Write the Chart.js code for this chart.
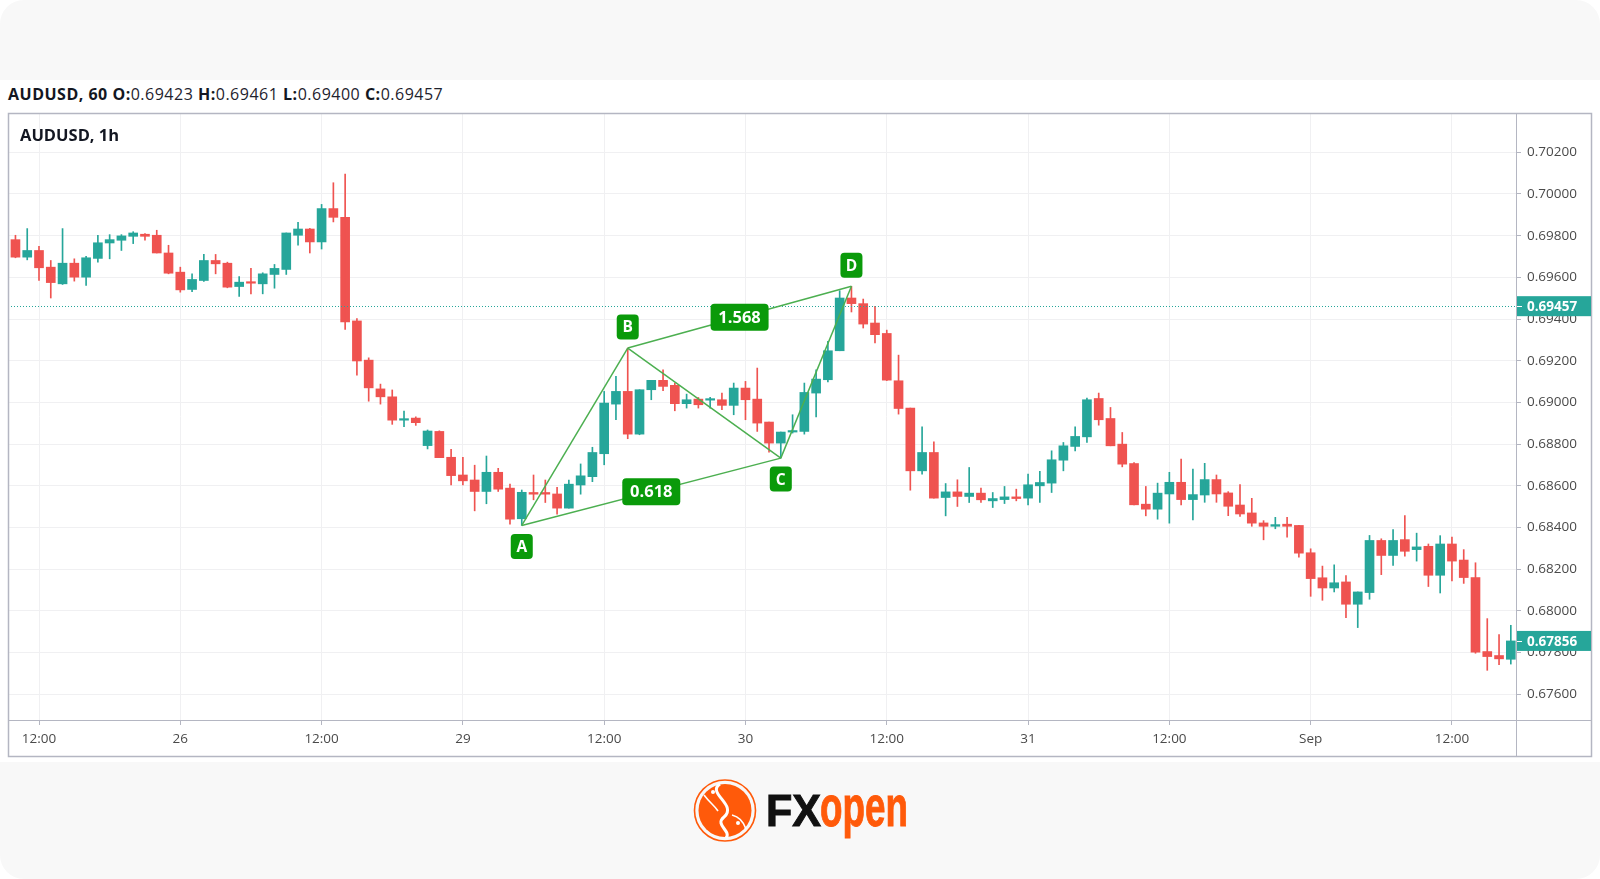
<!DOCTYPE html>
<html>
<head>
<meta charset="utf-8">
<script src="https://cdn.jsdelivr.net/npm/chart.js@4.4.1/dist/chart.umd.min.js"></script>
<style>
  html,body{margin:0;padding:0;background:#fff;}
  body{width:1600px;height:879px;position:relative;overflow:hidden;font-family:"Open Sans","Noto Sans",sans-serif;}
  #topband{position:absolute;left:0;top:0;width:1600px;height:80px;background:#f8f8f8;border-radius:24px 24px 0 0;}
  #botband{position:absolute;left:0;top:762px;width:1600px;height:117px;background:#f8f8f8;border-radius:0 0 24px 24px;}
  #hdr{position:absolute;left:8px;top:83px;font-size:16px;letter-spacing:0.5px;color:#131722;white-space:nowrap;line-height:22px;}
  #hdr b{font-weight:700;}
  #hdr span.v{font-weight:400;color:#1e222d;}
  #ttl{position:absolute;left:20px;top:124px;font-size:16.5px;font-weight:700;color:#131722;white-space:nowrap;line-height:22px;}
  #cv{position:absolute;left:0;top:0;}
  #logo{position:absolute;left:680px;top:765px;}
</style>
</head>
<body>
<div id="topband"></div>
<div id="botband"></div>
<div id="hdr"></div>
<canvas id="cv" width="1600" height="879"></canvas>
<div id="ttl"></div>
<svg id="logo" width="240" height="95" viewBox="0 0 240 95">
  <circle cx="45" cy="45.5" r="30.5" fill="none" stroke="#ff5a0a" stroke-width="1.6"/>
  <circle cx="45" cy="45.5" r="26.5" fill="#ff5a0a"/>
  <path d="M40 19 C26 28 58 40 44 52 C34 60 52 66 46 73" fill="none" stroke="#fff" stroke-width="3"/>
  <path d="M24 30 C30 38 34 40 38 46" fill="none" stroke="#fff" stroke-width="1.6"/>
  <path d="M52 50 C60 52 64 58 66 64" fill="none" stroke="#fff" stroke-width="1.6"/>
  <circle cx="33" cy="27" r="2" fill="#fff"/>
  <circle cx="58" cy="58" r="2" fill="#fff"/>
  <text x="86" y="61" font-family="Liberation Sans, Arial, sans-serif" font-weight="700" font-size="44" fill="#111" textLength="55" lengthAdjust="spacingAndGlyphs" stroke="#111" stroke-width="1">FX</text>
  <text x="140" y="61" font-family="Liberation Sans, Arial, sans-serif" font-weight="700" font-size="58" fill="#ff5a0a" textLength="88" lengthAdjust="spacingAndGlyphs" stroke="#ff5a0a" stroke-width="1">open</text>
</svg>
<script>
// ---------------- DATA ----------------
const symbolTitle = "AUDUSD, 1h";
const headerSymbol = "AUDUSD, 60";
const headerKeys = ["O", "H", "L", "C"];
const headerVals = ["0.69423", "0.69461", "0.69400", "0.69457"];

// hourly candles, index 0 = 25 Aug 10:00
const opens = [
0.69781,0.69697,0.69729,0.69649,0.69569,0.69668,0.69601,0.69691,0.69765,0.69778,
0.69797,0.69807,0.69802,0.69717,0.69625,0.69542,0.69585,0.69681,0.69668,0.69556,
0.69577,0.69569,0.69614,0.69638,0.69802,0.69832,0.69770,0.69930,0.69888,0.69391,
0.69203,0.69065,0.69027,0.68915,0.68925,0.68793,0.68861,0.68737,0.68652,0.68628,
0.68573,0.68665,0.68589,0.68442,0.68568,0.68568,0.68561,0.68493,0.68604,0.68644,
0.68754,0.68992,0.69053,0.68848,0.69061,0.69106,0.69082,0.68994,0.69016,0.69011,
0.69013,0.68986,0.69069,0.69016,0.68906,0.68805,0.68858,0.68861,0.69045,0.69109,
0.69248,0.69501,0.69474,0.69381,0.69331,0.69104,0.68973,0.68672,0.68760,0.68544,
0.68571,0.68549,0.68565,0.68528,0.68534,0.68547,0.68541,0.68600,0.68613,0.68723,
0.68789,0.68835,0.69019,0.68923,0.68800,0.68707,0.68512,0.68488,0.68561,0.68617,
0.68534,0.68556,0.68630,0.68566,0.68508,0.68470,0.68422,0.68406,0.68416,0.68410,
0.68279,0.68159,0.68110,0.68139,0.68032,0.68088,0.68338,0.68266,0.68342,0.68294,
0.68310,0.68171,0.68321,0.68244,0.68160,0.67805,0.67786,0.67768];
const highs = [
0.69802,0.69834,0.69749,0.69681,0.69834,0.69689,0.69701,0.69802,0.69805,0.69805,
0.69819,0.69810,0.69826,0.69754,0.69649,0.69617,0.69710,0.69710,0.69673,0.69604,
0.69643,0.69622,0.69662,0.69813,0.69864,0.69835,0.69950,0.70054,0.70095,0.69402,
0.69214,0.69088,0.69060,0.68959,0.68931,0.68868,0.68864,0.68775,0.68737,0.68699,
0.68743,0.68684,0.68609,0.68580,0.68652,0.68628,0.68593,0.68628,0.68705,0.68785,
0.69053,0.69125,0.69261,0.69061,0.69106,0.69157,0.69093,0.69040,0.69024,0.69024,
0.69045,0.69093,0.69101,0.69165,0.68906,0.68858,0.68941,0.69093,0.69157,0.69293,
0.69536,0.69557,0.69496,0.69461,0.69347,0.69227,0.68973,0.68883,0.68811,0.68611,
0.68629,0.68688,0.68589,0.68568,0.68597,0.68584,0.68656,0.68669,0.68768,0.68808,
0.68883,0.69021,0.69045,0.68976,0.68856,0.68712,0.68597,0.68613,0.68665,0.68728,
0.68680,0.68708,0.68652,0.68572,0.68606,0.68540,0.68433,0.68449,0.68449,0.68410,
0.68298,0.68215,0.68221,0.68170,0.68091,0.68362,0.68346,0.68390,0.68457,0.68373,
0.68321,0.68361,0.68354,0.68294,0.68231,0.67963,0.67887,0.67931];
const lows = [
0.69694,0.69684,0.69585,0.69501,0.69566,0.69582,0.69561,0.69673,0.69689,0.69729,
0.69762,0.69778,0.69717,0.69617,0.69529,0.69532,0.69580,0.69617,0.69550,0.69509,
0.69521,0.69521,0.69548,0.69614,0.69755,0.69717,0.69736,0.69866,0.69350,0.69131,
0.69006,0.68992,0.68895,0.68884,0.68890,0.68777,0.68735,0.68604,0.68604,0.68480,
0.68514,0.68573,0.68416,0.68410,0.68533,0.68520,0.68464,0.68493,0.68560,0.68620,
0.68701,0.68917,0.68826,0.68845,0.69013,0.69056,0.68960,0.68973,0.68973,0.68973,
0.68965,0.68941,0.68917,0.68861,0.68762,0.68733,0.68853,0.68848,0.68930,0.69098,
0.69248,0.69434,0.69357,0.69285,0.69105,0.68944,0.68579,0.68656,0.68541,0.68456,
0.68501,0.68520,0.68520,0.68496,0.68515,0.68528,0.68509,0.68520,0.68568,0.68672,
0.68768,0.68808,0.68891,0.68792,0.68691,0.68509,0.68456,0.68440,0.68421,0.68508,
0.68437,0.68521,0.68521,0.68457,0.68453,0.68406,0.68341,0.68394,0.68354,0.68258,
0.68070,0.68051,0.68091,0.67968,0.67920,0.68056,0.68174,0.68218,0.68263,0.68239,
0.68117,0.68086,0.68144,0.68132,0.67797,0.67715,0.67742,0.67745];
const closes = [
0.69697,0.69729,0.69646,0.69575,0.69668,0.69601,0.69694,0.69766,0.69781,0.69799,
0.69813,0.69797,0.69717,0.69620,0.69540,0.69590,0.69681,0.69665,0.69553,0.69577,
0.69572,0.69617,0.69643,0.69813,0.69832,0.69770,0.69930,0.69888,0.69386,0.69199,
0.69070,0.69027,0.68915,0.68922,0.68903,0.68863,0.68735,0.68649,0.68624,0.68573,
0.68665,0.68584,0.68440,0.68569,0.68560,0.68560,0.68493,0.68608,0.68648,0.68760,
0.68997,0.69053,0.68848,0.69061,0.69106,0.69077,0.68994,0.69013,0.68989,0.69016,
0.68986,0.69069,0.69013,0.68901,0.68805,0.68858,0.68864,0.69048,0.69112,0.69248,
0.69501,0.69474,0.69376,0.69325,0.69107,0.68971,0.68672,0.68760,0.68541,0.68571,
0.68549,0.68565,0.68533,0.68539,0.68547,0.68539,0.68605,0.68616,0.68725,0.68792,
0.68837,0.69013,0.68917,0.68792,0.68704,0.68509,0.68488,0.68565,0.68617,0.68534,
0.68558,0.68630,0.68561,0.68502,0.68465,0.68421,0.68406,0.68414,0.68406,0.68277,
0.68155,0.68110,0.68135,0.68032,0.68091,0.68338,0.68266,0.68338,0.68286,0.68307,
0.68171,0.68321,0.68239,0.68160,0.67802,0.67781,0.67770,0.67856];

// time axis
const xTickIdx    = [2, 14, 26, 38, 50, 62, 74, 86, 98, 110, 122];
const xTickLabels = ["12:00","26","12:00","29","12:00","30","12:00","31","12:00","Sep","12:00"];
// price axis
const yTicks = [0.676,0.678,0.680,0.682,0.684,0.686,0.688,0.690,0.692,0.694,0.696,0.698,0.700,0.702];
const lastPrice = 0.67856;
const markPrice = 0.69457;

// harmonic pattern points A,B,C,D
const patternLetters = ["A","B","C","D"];
const patternIdx     = [43, 52, 65, 71];
const patternPrice   = [0.68410, 0.69261, 0.68733, 0.69557];
const ratioLabels    = ["0.618", "1.568"];
const ratioFrom      = [0, 1];
const ratioTo        = [2, 3];

// ---------------- STYLE ----------------
const UP = "#26a69a", DOWN = "#ef5350";
const FRAME = "#b4b6c2";
const GRID = "#f0f0f2";
const PAT_LINE = "#4caf50", PAT_BOX = "#0a9a0a";
const FONT = "'Open Sans','Noto Sans',sans-serif";

// header html
(function(){
  const h = document.getElementById('hdr');
  let s = '<b>' + headerSymbol + '</b>';
  headerKeys.forEach((k,i)=>{ s += ' <b>' + k + ':</b><span class="v">' + headerVals[i] + '</span>'; });
  h.innerHTML = s;
  document.getElementById('ttl').textContent = symbolTitle;
})();

const idx = opens.map((_, i) => i);
const colors = idx.map(i => closes[i] >= opens[i] ? UP : DOWN);

function roundBox(ctx, x, y, w, h, r) {
  ctx.beginPath();
  ctx.moveTo(x + r, y);
  ctx.lineTo(x + w - r, y); ctx.quadraticCurveTo(x + w, y, x + w, y + r);
  ctx.lineTo(x + w, y + h - r); ctx.quadraticCurveTo(x + w, y + h, x + w - r, y + h);
  ctx.lineTo(x + r, y + h); ctx.quadraticCurveTo(x, y + h, x, y + h - r);
  ctx.lineTo(x, y + r); ctx.quadraticCurveTo(x, y, x + r, y);
  ctx.closePath();
}
function labelBox(ctx, cx, cy, w, h, text, font) {
  ctx.fillStyle = PAT_BOX;
  roundBox(ctx, cx - w/2, cy - h/2, w, h, 4);
  ctx.fill();
  ctx.fillStyle = "#ffffff";
  ctx.font = font;
  ctx.textAlign = "center";
  ctx.textBaseline = "middle";
  ctx.fillText(text, cx, cy + 1);
}

const overlay = {
  id: 'overlay',
  afterDatasetsDraw(chart) {
    const {ctx, chartArea: a, scales: {x, y}} = chart;
    ctx.save();
    ctx.beginPath(); ctx.rect(a.left, a.top, a.right - a.left, a.bottom - a.top); ctx.clip();
    // dotted price line
    const my = Math.round(y.getPixelForValue(markPrice)) - 0.5;
    ctx.strokeStyle = UP; ctx.lineWidth = 1; ctx.setLineDash([1, 2]);
    ctx.beginPath(); ctx.moveTo(a.left, my); ctx.lineTo(a.right, my); ctx.stroke();
    ctx.setLineDash([]);
    // pattern lines
    const P = patternIdx.map((v, k) => ({ px: x.getPixelForValue(v), py: y.getPixelForValue(patternPrice[k]) }));
    const segs = [[0,1],[1,2],[2,3],[0,2],[1,3]];
    ctx.strokeStyle = PAT_LINE; ctx.lineWidth = 1.5;
    segs.forEach(([i, j]) => { ctx.beginPath(); ctx.moveTo(P[i].px, P[i].py); ctx.lineTo(P[j].px, P[j].py); ctx.stroke(); });
    // ratio labels
    ratioLabels.forEach((t, k) => {
      const p1 = P[ratioFrom[k]], p2 = P[ratioTo[k]];
      labelBox(ctx, (p1.px + p2.px)/2, (p1.py + p2.py)/2, 58, 27, t, "bold 16.5px " + FONT);
    });
    // letter labels
    patternLetters.forEach((t, k) => {
      const isLow = (k % 2 === 0);
      labelBox(ctx, P[k].px, P[k].py + (isLow ? 21 : -21), 22, 25, t, "bold 15.5px " + FONT);
    });
    ctx.restore();
  },
  afterDraw(chart) {
    const {ctx, chartArea: a, scales: {y}} = chart;
    ctx.save();
    // frame
    ctx.strokeStyle = FRAME; ctx.lineWidth = 1.5;
    ctx.strokeRect(8.5, 113.5, 1583, 643);
    ctx.lineWidth = 1;
    ctx.beginPath();
    ctx.moveTo(Math.round(a.right) + 0.5, 113); ctx.lineTo(Math.round(a.right) + 0.5, 757);
    ctx.moveTo(8, Math.round(a.bottom) + 0.5); ctx.lineTo(1592, Math.round(a.bottom) + 0.5);
    ctx.stroke();
    // axis price labels
    [markPrice, lastPrice].forEach((v, k) => {
      const py = y.getPixelForValue(v) - (k === 0 ? 1 : 0);
      ctx.fillStyle = UP;
      ctx.fillRect(Math.round(a.right) + 1, py - 10, 1591 - Math.round(a.right) - 1, 20);
      ctx.fillStyle = "#ffffff";
      ctx.font = "bold 13.5px " + FONT;
      ctx.textAlign = "left"; ctx.textBaseline = "middle";
      ctx.fillText(v.toFixed(5), a.right + 11, py + 1);
      ctx.fillRect(Math.round(a.right) + 1, Math.round(py), 5, 1);
    });
    ctx.restore();
  }
};

new Chart(document.getElementById('cv'), {
  type: 'bar',
  data: {
    datasets: [
      { label: 'wick', data: idx.map(i => ({ x: i, y: [lows[i], highs[i]] })),
        backgroundColor: colors, barThickness: 1, grouped: false, minBarLength: 1, borderWidth: 0 },
      { label: 'body', data: idx.map(i => ({ x: i, y: [opens[i], closes[i]] })),
        backgroundColor: colors, barThickness: 9, grouped: false, minBarLength: 1.5, borderWidth: 0 }
    ]
  },
  options: {
    responsive: false,
    animation: false,
    devicePixelRatio: 1,
    layout: { padding: { left: 8, top: 113, right: 8, bottom: 122 } },
    plugins: { legend: { display: false }, tooltip: { enabled: false } },
    scales: {
      x: {
        type: 'linear', min: -0.633, max: 127.44, offset: false,
        grid: { color: GRID, offset: false, drawTicks: true, tickLength: 5, tickColor: FRAME },
        border: { display: false },
        ticks: {
          color: '#4a4a4a', font: { family: FONT, size: 13.5 }, padding: 6, maxRotation: 0, autoSkip: false,
          callback: (v) => { const k = xTickIdx.indexOf(v); return k >= 0 ? xTickLabels[k] : null; }
        },
        afterBuildTicks: (s) => { s.ticks = xTickIdx.map(v => ({ value: v })); },
        afterFit: (s) => { s.height = 37; }
      },
      y: {
        position: 'right', min: 0.674767, max: 0.703885,
        grid: { color: GRID, drawTicks: true, tickLength: 5, tickColor: FRAME },
        border: { display: false },
        ticks: {
          color: '#4a4a4a', font: { family: FONT, size: 13.5 }, padding: 6,
          callback: (v) => Number(v).toFixed(5)
        },
        afterBuildTicks: (s) => { s.ticks = yTicks.map(v => ({ value: v })); },
        afterFit: (s) => { s.width = 76; }
      }
    }
  },
  plugins: [overlay]
});
</script>
</body>
</html>
